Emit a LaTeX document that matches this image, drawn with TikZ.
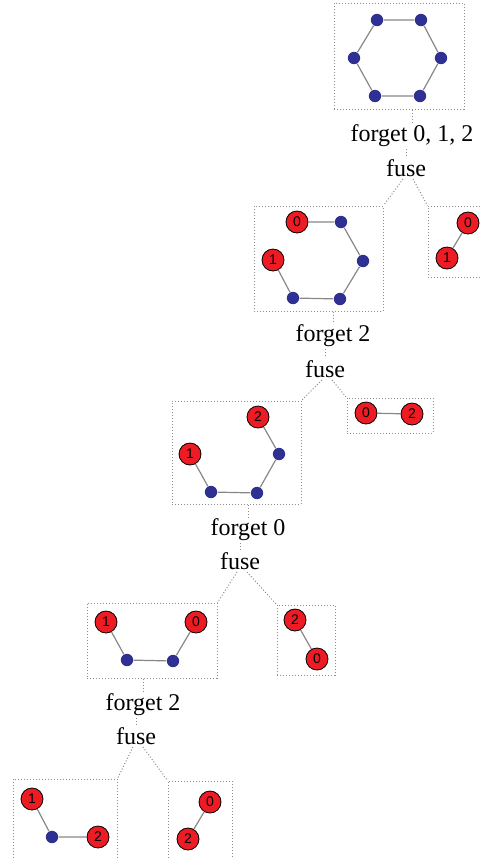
\documentclass[tikz,border=0pt]{standalone}
\usepackage{fontspec}
\setmainfont{Liberation Serif}
\setsansfont{Liberation Sans}
\usetikzlibrary{fit}
\definecolor{rougeG}{RGB}{237,28,36}
\definecolor{bleuG}{RGB}{46,49,146}
\definecolor{grisE}{RGB}{135,135,135}
\definecolor{grisF}{RGB}{140,140,140}

\begin{document}
\begin{tikzpicture}[x=0.5pt, y=-0.5pt,
    vtx/.style={circle, fill=bleuG, minimum size=6.2pt, inner sep=0pt},
    lab/.style={circle, draw=black, line width=0.4pt, fill=rougeG, minimum size=11pt, inner sep=0pt, font=\fontsize{7}{7}\sffamily},
    gline/.style={draw=grisE, line width=0.6pt},
    cadre/.style={draw=grisF, densely dotted, line width=0.5pt, inner sep=0pt},
    op/.style={inner sep=1pt, font=\fontsize{12}{13}\selectfont},
    link/.style={draw=grisF, densely dotted, line width=0.5pt}
]
\useasboundingbox (0,0) rectangle (481,858);
\clip (0,0) rectangle (481,858);

% graphe de depart
\node[vtx] (a1) at (377,20) {};
\node[vtx] (a2) at (421,20) {};
\node[vtx] (a3) at (441,58) {};
\node[vtx] (a4) at (420,96) {};
\node[vtx] (a5) at (375,96) {};
\node[vtx] (a6) at (354,58) {};
\draw[gline] (a1) -- (a2) -- (a3) -- (a4) -- (a5) -- (a6) -- (a1);
\node[cadre, fit={(334,3) (464,109)}] (b1) {};
\node[op] (f1) at (412,136) {forget 0, 1, 2};
\node[op] (u1) at (406,168) {fuse};

% niveau 2
\node[lab] (c0) at (297,222) {0};
\node[vtx] (c2) at (341,222) {};
\node[vtx] (c3) at (363,261) {};
\node[vtx] (c4) at (340,299) {};
\node[vtx] (c5) at (293,298) {};
\node[lab] (c1) at (273,260) {1};
\draw[gline] (c0) -- (c2) -- (c3) -- (c4) -- (c5) -- (c1);
\node[cadre, fit={(254,206) (383,311)}] (b2) {};

\node[lab] (d0) at (468,223) {0};
\node[lab] (d1) at (447,258) {1};
\draw[gline] (d0) -- (d1);
\node[cadre, fit={(428,206) (495,277)}] (b3) {};

\node[op] (f2) at (333,336) {forget 2};
\node[op] (u2) at (325,369) {fuse};

% niveau 3
\node[lab] (e2) at (258,417) {2};
\node[vtx] (e3) at (279,454) {};
\node[vtx] (e4) at (257,493) {};
\node[vtx] (e5) at (211,492) {};
\node[lab] (e1) at (190,454) {1};
\draw[gline] (e2) -- (e3) -- (e4) -- (e5) -- (e1);
\node[cadre, fit={(172,401) (301,504)}] (b4) {};

\node[lab] (k0) at (366,413) {0};
\node[lab] (k2) at (412,414) {2};
\draw[gline] (k0) -- (k2);
\node[cadre, fit={(347,398) (433,433)}] (b5) {};

\node[op] (f3) at (248,530) {forget 0};
\node[op] (u3) at (240,561) {fuse};

% niveau 4
\node[lab] (m1) at (106,622) {1};
\node[vtx] (m3) at (127,660) {};
\node[vtx] (m4) at (173,661) {};
\node[lab] (m0) at (196,622) {0};
\draw[gline] (m1) -- (m3) -- (m4) -- (m0);
\node[cadre, fit={(87,603) (217,678)}] (b6) {};

\node[lab] (n2) at (295,620) {2};
\node[lab] (n0) at (317,659) {0};
\draw[gline] (n2) -- (n0);
\node[cadre, fit={(277,605) (335,675)}] (b7) {};

\node[op] (f4) at (143,705) {forget 2};
\node[op] (u4) at (136,736) {fuse};

% niveau 5
\node[lab] (p1) at (32,799) {1};
\node[vtx] (p3) at (52,837) {};
\node[lab] (p2) at (98,837) {2};
\draw[gline] (p1) -- (p3) -- (p2);
\node[cadre, fit={(13,779) (117,880)}] (b8) {};

\node[lab] (q0) at (210,802) {0};
\node[lab] (q2) at (188,839) {2};
\draw[gline] (q0) -- (q2);
\node[cadre, fit={(168,781) (232,880)}] (b9) {};

% liens de l'arbre
\draw[link] (f1.north |- b1.south) -- (f1.north);
\draw[link] (u1.north |- f1.south) -- (u1.north);
\draw[link] ([xshift=-1.5pt]u1.south) -- (b2.north east);
\draw[link] ([xshift=3.5pt]u1.south) -- (b3.north west);

\draw[link] (f2.north |- b2.south) -- (f2.north);
\draw[link] (u2.north |- f2.south) -- (u2.north);
\draw[link] ([xshift=-1.5pt]u2.south) -- (b4.north east);
\draw[link] ([xshift=3.5pt]u2.south) -- (b5.north west);

\draw[link] (f3.north |- b4.south) -- (f3.north);
\draw[link] (u3.north |- f3.south) -- (u3.north);
\draw[link] ([xshift=-1.5pt]u3.south) -- (b6.north east);
\draw[link] ([xshift=3.5pt]u3.south) -- (b7.north west);

\draw[link] (f4.north |- b6.south) -- (f4.north);
\draw[link] (u4.north |- f4.south) -- (u4.north);
\draw[link] ([xshift=-1.5pt]u4.south) -- (b8.north east);
\draw[link] ([xshift=3.5pt]u4.south) -- (b9.north west);
\end{tikzpicture}
\end{document}
